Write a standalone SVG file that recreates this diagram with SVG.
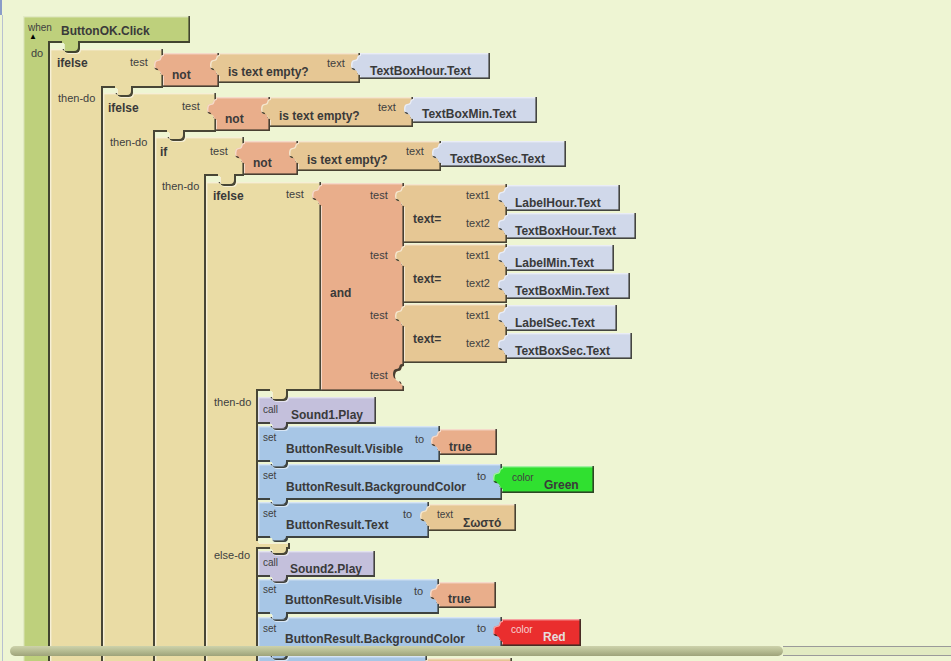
<svg xmlns="http://www.w3.org/2000/svg" width="951" height="661" viewBox="0 0 951 661">
<defs>
<filter id="bevel" x="-5%" y="-5%" width="110%" height="110%" color-interpolation-filters="sRGB">
 <feOffset in="SourceAlpha" dx="-1.6" dy="-1.6" result="s1"/>
 <feComposite in="SourceAlpha" in2="s1" operator="out" result="e1"/>
 <feFlood flood-color="#2b2b22" flood-opacity="0.85" result="f1"/>
 <feComposite in="f1" in2="e1" operator="in" result="dark"/>
 <feOffset in="SourceAlpha" dx="1.4" dy="1.4" result="s2"/>
 <feComposite in="SourceAlpha" in2="s2" operator="out" result="e2"/>
 <feFlood flood-color="#ffffff" flood-opacity="0.55" result="f2"/>
 <feComposite in="f2" in2="e2" operator="in" result="light"/>
 <feMerge><feMergeNode in="SourceGraphic"/><feMergeNode in="light"/><feMergeNode in="dark"/></feMerge>
</filter>
<linearGradient id="thumb" x1="0" y1="0" x2="0" y2="1">
 <stop offset="0" stop-color="#cdd2ab"/>
 <stop offset="0.5" stop-color="#b6bc92"/>
 <stop offset="1" stop-color="#9ea37a"/>
</linearGradient>
</defs>
<style>
.b{filter:url(#bevel)}
.ev{fill:#bed07c}
.ctl{fill:#eadca5}
.lg{fill:#e9ae8b}
.tx{fill:#e6c794}
.gt{fill:#d0d8ea}
.cl{fill:#c4c0dc}
.st{fill:#a7c6e6}
.cg{fill:#30e030}
.cr{fill:#ea2e2e}
text{font-family:"Liberation Sans",Arial,sans-serif}
.lb{font-size:11px;fill:#404040}
.sm{font-size:10px;fill:#404040}
.nm{font-size:12px;font-weight:bold;fill:#3a3a3a}
</style>
<rect x="0" y="0" width="951" height="661" fill="#eef5d3"/>
<rect x="0" y="0" width="2" height="15" fill="#8a9cc8"/>
<line x1="2.5" y1="15" x2="2.5" y2="661" stroke="#b8c0d0" stroke-width="1"/>

<g id="when-ButtonOK-Click">
 <path class="b ev" d="M23,16 H190 V43 H80 V49 C80,51 79,53 76,53 H68 C65,53 64,51 64,49 V43 H50 V700 H23 Z"/>
 <text class="sm" x="28" y="31">when</text>
 <text x="29" y="39" font-size="8" fill="#000" font-family="DejaVu Sans, sans-serif">▲</text>
 <text class="nm" x="61" y="35">ButtonOK.Click</text>
 <text class="lb" x="31" y="57">do</text>
</g>

<g id="ifelse1">
 <path class="b ctl" d="M50,49 H64 C64,51 65,53 68,53 H76 C79,53 80,51 80,49 H163 V88 H133 V93 C133,95 132,97 129,97 H121 C118,97 117,95 117,93 V88 H103 V700 H50 Z"/>
 <text class="nm" x="57" y="67">ifelse</text>
 <text class="lb" x="130" y="66">test</text>
 <text class="lb" x="58" y="102">then-do</text>
</g>
<g id="not1">
 <path class="b lg" d="M163,53 H219 V87 H163 V75 C159,75 162,70 157,70 C153,70 153,60 157,60 C162,60 159,55 163,55 Z"/>
 <text class="nm" x="172" y="79">not</text>
</g>
<g id="isEmpty1">
 <path class="b tx" d="M219,53 H360 V83 H219 V75 C215,75 218,70 213,70 C209,70 209,60 213,60 C218,60 215,55 219,55 Z"/>
 <text class="nm" x="228" y="76">is text empty?</text>
 <text class="lb" x="327" y="67">text</text>
</g>
<g id="TextBoxHour-Text-1">
 <path class="b gt" d="M360,53 H490 V79 H360 V75 C356,75 359,70 354,70 C350,70 350,60 354,60 C359,60 356,55 360,55 Z"/>
 <text class="nm" x="370" y="75">TextBoxHour.Text</text>
</g>

<g id="ifelse2">
 <path class="b ctl" d="M103,93 H117 C117,95 118,97 121,97 H129 C132,97 133,95 133,93 H216 V132 H185 V137 C185,139 184,141 181,141 H173 C170,141 169,139 169,137 V132 H155 V700 H103 Z"/>
 <text class="nm" x="108" y="112">ifelse</text>
 <text class="lb" x="182" y="110">test</text>
 <text class="lb" x="110" y="146">then-do</text>
</g>
<g id="not2">
 <path class="b lg" d="M216,97 H270 V131 H216 V119 C212,119 215,114 210,114 C206,114 206,104 210,104 C215,104 212,99 216,99 Z"/>
 <text class="nm" x="225" y="123">not</text>
</g>
<g id="isEmpty2">
 <path class="b tx" d="M270,97 H413 V127 H270 V119 C266,119 269,114 264,114 C260,114 260,104 264,104 C269,104 266,99 270,99 Z"/>
 <text class="nm" x="279" y="120">is text empty?</text>
 <text class="lb" x="378" y="111">text</text>
</g>
<g id="TextBoxMin-Text-1">
 <path class="b gt" d="M413,97 H537 V123 H413 V119 C409,119 412,114 407,114 C403,114 403,104 407,104 C412,104 409,99 413,99 Z"/>
 <text class="nm" x="422" y="118">TextBoxMin.Text</text>
</g>

<g id="if3">
 <path class="b ctl" d="M155,137 H169 C169,139 170,141 173,141 H181 C184,141 185,139 185,137 H244 V176 H236 V182 C236,184 235,186 232,186 H224 C221,186 220,184 220,182 V176 H206 V700 H155 Z"/>
 <text class="nm" x="160" y="156">if</text>
 <text class="lb" x="210" y="155">test</text>
 <text class="lb" x="162" y="190">then-do</text>
</g>
<g id="not3">
 <path class="b lg" d="M244,141 H298 V175 H244 V163 C240,163 243,158 238,158 C234,158 234,148 238,148 C243,148 240,143 244,143 Z"/>
 <text class="nm" x="253" y="167">not</text>
</g>
<g id="isEmpty3">
 <path class="b tx" d="M298,141 H441 V171 H298 V163 C294,163 297,158 292,158 C288,158 288,148 292,148 C297,148 294,143 298,143 Z"/>
 <text class="nm" x="307" y="164">is text empty?</text>
 <text class="lb" x="406" y="155">text</text>
</g>
<g id="TextBoxSec-Text-1">
 <path class="b gt" d="M441,141 H566 V167 H441 V163 C437,163 440,158 435,158 C431,158 431,148 435,148 C440,148 437,143 441,143 Z"/>
 <text class="nm" x="450" y="163">TextBoxSec.Text</text>
</g>

<g id="ifelse4">
 <path class="b ctl" d="M206,182 H220 C220,184 221,186 224,186 H232 C235,186 236,184 236,182 H321 V391 H288 V397 C288,399 287,401 284,401 H276 C273,401 272,399 272,397 V391 H258 V543 H290 V549 H288 V551 C288,553 287,555 284,555 H276 C273,555 272,553 272,551 V549 H258 V700 H206 Z"/>
 <text class="nm" x="213" y="200">ifelse</text>
 <text class="lb" x="286" y="198">test</text>
 <text class="lb" x="214" y="406">then-do</text>
 <text class="lb" x="214" y="559">else-do</text>
</g>
<g id="and">
 <path class="b lg" d="M321,183 H404 V366 C400,366 403,371 398,371 C394,371 394,381 398,381 C403,381 400,386 404,386 V391 H321 V205 C317,205 320,200 315,200 C311,200 311,190 315,190 C320,190 317,185 321,185 Z"/>
 <text class="nm" x="330" y="297">and</text>
 <text class="lb" x="370" y="199">test</text>
 <text class="lb" x="370" y="259">test</text>
 <text class="lb" x="370" y="319">test</text>
 <text class="lb" x="370" y="379">test</text>
</g>
<g id="textEq1">
 <path class="b tx" d="M404,184 H507 V243 H404 V206 C400,206 403,201 398,201 C394,201 394,191 398,191 C403,191 400,186 404,186 Z"/>
 <text class="nm" x="413" y="223">text=</text>
 <text class="lb" x="466" y="199">text1</text>
 <text class="lb" x="466" y="227">text2</text>
</g>
<g id="textEq2">
 <path class="b tx" d="M404,244 H507 V303 H404 V266 C400,266 403,261 398,261 C394,261 394,251 398,251 C403,251 400,246 404,246 Z"/>
 <text class="nm" x="413" y="283">text=</text>
 <text class="lb" x="466" y="259">text1</text>
 <text class="lb" x="466" y="287">text2</text>
</g>
<g id="textEq3">
 <path class="b tx" d="M404,304 H507 V363 H404 V326 C400,326 403,321 398,321 C394,321 394,311 398,311 C403,311 400,306 404,306 Z"/>
 <text class="nm" x="413" y="343">text=</text>
 <text class="lb" x="466" y="319">text1</text>
 <text class="lb" x="466" y="347">text2</text>
</g>
<g id="LabelHour-Text">
 <path class="b gt" d="M507,185 H620 V211 H507 V207 C503,207 506,202 501,202 C497,202 497,192 501,192 C506,192 503,187 507,187 Z"/>
 <text class="nm" x="515" y="207">LabelHour.Text</text>
</g>
<g id="TextBoxHour-Text-2">
 <path class="b gt" d="M507,213 H636 V239 H507 V235 C503,235 506,230 501,230 C497,230 497,220 501,220 C506,220 503,215 507,215 Z"/>
 <text class="nm" x="515" y="235">TextBoxHour.Text</text>
</g>
<g id="LabelMin-Text">
 <path class="b gt" d="M507,245 H614 V271 H507 V267 C503,267 506,262 501,262 C497,262 497,252 501,252 C506,252 503,247 507,247 Z"/>
 <text class="nm" x="515" y="267">LabelMin.Text</text>
</g>
<g id="TextBoxMin-Text-2">
 <path class="b gt" d="M507,273 H630 V299 H507 V295 C503,295 506,290 501,290 C497,290 497,280 501,280 C506,280 503,275 507,275 Z"/>
 <text class="nm" x="515" y="295">TextBoxMin.Text</text>
</g>
<g id="LabelSec-Text">
 <path class="b gt" d="M507,305 H617 V331 H507 V327 C503,327 506,322 501,322 C497,322 497,312 501,312 C506,312 503,307 507,307 Z"/>
 <text class="nm" x="515" y="327">LabelSec.Text</text>
</g>
<g id="TextBoxSec-Text-2">
 <path class="b gt" d="M507,333 H632 V359 H507 V355 C503,355 506,350 501,350 C497,350 497,340 501,340 C506,340 503,335 507,335 Z"/>
 <text class="nm" x="515" y="355">TextBoxSec.Text</text>
</g>

<g id="call-Sound1-Play">
 <path class="b cl" d="M258,397 H272 C272,399 273,401 276,401 H284 C287,401 288,399 288,397 H376 V424 H288 V426 C288,428 287,430 284,430 H276 C273,430 272,428 272,426 V424 H258 Z"/>
 <text class="sm" x="263" y="413">call</text>
 <text class="nm" x="291" y="419">Sound1.Play</text>
</g>
<g id="set-Visible-1">
 <path class="b st" d="M258,426 H272 C272,428 273,430 276,430 H284 C287,430 288,428 288,426 H440 V462 H288 V464 C288,466 287,468 284,468 H276 C273,468 272,466 272,464 V462 H258 Z"/>
 <text class="sm" x="263" y="441">set</text>
 <text class="nm" x="286" y="453">ButtonResult.Visible</text>
 <text class="lb" x="415" y="443">to</text>
</g>
<g id="true1">
 <path class="b lg" d="M440,429 H497 V455 H440 V451 C436,451 439,446 434,446 C430,446 430,436 434,436 C439,436 436,431 440,431 Z"/>
 <text class="nm" x="449" y="451">true</text>
</g>
<g id="set-BackgroundColor-1">
 <path class="b st" d="M258,464 H272 C272,466 273,468 276,468 H284 C287,468 288,466 288,464 H502 V500 H288 V502 C288,504 287,506 284,506 H276 C273,506 272,504 272,502 V500 H258 Z"/>
 <text class="sm" x="263" y="479">set</text>
 <text class="nm" x="286" y="491">ButtonResult.BackgroundColor</text>
 <text class="lb" x="477" y="480">to</text>
</g>
<g id="color-Green">
 <path class="b cg" d="M502,466 H594 V493 H502 V488 C498,488 501,483 496,483 C492,483 492,473 496,473 C501,473 498,468 502,468 Z"/>
 <text class="sm" x="512" y="481">color</text>
 <text class="nm" x="544" y="489">Green</text>
</g>
<g id="set-Text-1">
 <path class="b st" d="M258,502 H272 C272,504 273,506 276,506 H284 C287,506 288,504 288,502 H429 V538 H288 C288,540 287,542 284,542 H276 C273,542 272,540 272,538 H258 Z"/>
 <text class="sm" x="263" y="517">set</text>
 <text class="nm" x="286" y="529">ButtonResult.Text</text>
 <text class="lb" x="403" y="518">to</text>
</g>
<g id="text-Sosto">
 <path class="b tx" d="M429,504 H516 V531 H429 V526 C425,526 428,521 423,521 C419,521 419,511 423,511 C428,511 425,506 429,506 Z"/>
 <text class="sm" x="437" y="518">text</text>
 <text class="nm" x="463" y="527">Σωστό</text>
</g>

<g id="call-Sound2-Play">
 <path class="b cl" d="M258,551 H272 C272,553 273,555 276,555 H284 C287,555 288,553 288,551 H375 V577 H288 V579 C288,581 287,583 284,583 H276 C273,583 272,581 272,579 V577 H258 Z"/>
 <text class="sm" x="263" y="566">call</text>
 <text class="nm" x="290" y="573">Sound2.Play</text>
</g>
<g id="set-Visible-2">
 <path class="b st" d="M258,579 H272 C272,581 273,583 276,583 H284 C287,583 288,581 288,579 H439 V614 H288 V617 C288,619 287,621 284,621 H276 C273,621 272,619 272,617 V614 H258 Z"/>
 <text class="sm" x="263" y="593">set</text>
 <text class="nm" x="285" y="604">ButtonResult.Visible</text>
 <text class="lb" x="414" y="595">to</text>
</g>
<g id="true2">
 <path class="b lg" d="M439,582 H496 V608 H439 V604 C435,604 438,599 433,599 C429,599 429,589 433,589 C438,589 435,584 439,584 Z"/>
 <text class="nm" x="448" y="603">true</text>
</g>
<g id="set-BackgroundColor-2">
 <path class="b st" d="M258,617 H272 C272,619 273,621 276,621 H284 C287,621 288,619 288,617 H502 V653 H288 V656 C288,658 287,660 284,660 H276 C273,660 272,658 272,656 V653 H258 Z"/>
 <text class="sm" x="263" y="632">set</text>
 <text class="nm" x="285" y="643">ButtonResult.BackgroundColor</text>
 <text class="lb" x="477" y="632">to</text>
</g>
<g id="color-Red">
 <path class="b cr" d="M502,619 H581 V646 H502 V641 C498,641 501,636 496,636 C492,636 492,626 496,626 C501,626 498,621 502,621 Z"/>
 <text class="sm" x="511" y="633" fill="#f6d2d2" style="fill:#f6d2d2">color</text>
 <text class="nm" x="543" y="641" style="fill:#e6dede">Red</text>
</g>
<g id="set-Text-2">
 <path class="b st" d="M258,656 H272 C272,658 273,660 276,660 H284 C287,660 288,658 288,656 H427 V700 H258 Z"/>
</g>
<g id="text-2">
 <path class="b tx" d="M427,658 H512 V700 H427 V680 C423,680 426,675 421,675 C417,675 417,665 421,665 C426,665 423,660 427,660 Z"/>
</g>

<g id="connectors"></g>

<g id="scrollbar">
 <rect x="783" y="646" width="168" height="9" fill="#e2ebc2"/>
 <line x1="783" y1="646.5" x2="951" y2="646.5" stroke="#9a9a9a" stroke-width="1"/>
 <line x1="783" y1="655.5" x2="951" y2="655.5" stroke="#9a9a9a" stroke-width="1"/>
 <rect x="10" y="646" width="773" height="10" rx="5" fill="url(#thumb)"/>
</g>
</svg>
